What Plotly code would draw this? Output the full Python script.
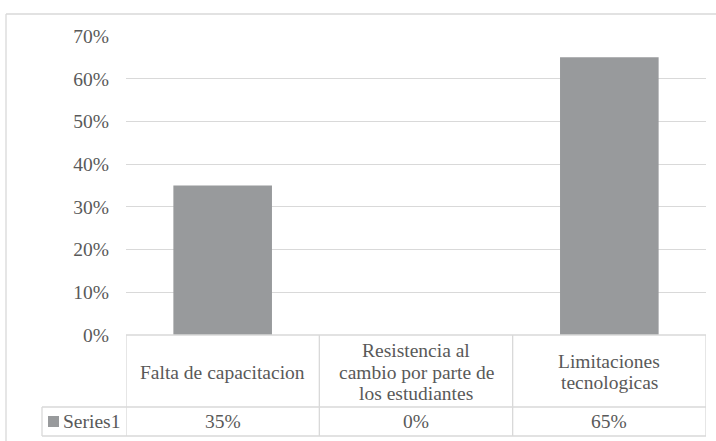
import plotly.graph_objects as go

categories = ["Falta de capacitacion",
              "Resistencia al cambio por parte de los estudiantes",
              "Limitaciones tecnologicas"]
# line breaks as they appear in the data table cells
table_labels = [["Falta de capacitacion"],
                ["Resistencia al", "cambio por parte de", "los estudiantes"],
                ["Limitaciones", "tecnologicas"]]
values = [0.35, 0.0, 0.65]
series_name = "Series1"
y_ticks = [0, 0.1, 0.2, 0.3, 0.4, 0.5, 0.6, 0.7]

W, H = 716, 441
L, R, T, B = 126, 10, 36, 106
pw, ph = W - L - R, H - T - B

FONT = "Times New Roman, Liberation Serif, DejaVu Serif, serif"
TXT = "#595959"
LINE = "#d9d9d9"
BAR = "#989a9c"

def px_x(p):  # pixel -> paper x
    return (p - L) / pw

def px_y(p):  # pixel -> paper y
    return (H - B - p) / ph

fig = go.Figure()
fig.add_trace(go.Bar(x=list(range(len(categories))), y=values, width=0.51,
                     marker=dict(color=BAR, line=dict(width=0)),
                     name=series_name, showlegend=False, hoverinfo="skip"))

shapes = []
# data table
row1, row2, row3 = px_y(335), px_y(407), px_y(436)
shapes.append(dict(type="line", xref="x", yref="paper", x0=-0.5, x1=2.5,
                   y0=row1, y1=row1, line=dict(color=LINE, width=1.3)))
for yy in (row2, row3):
    shapes.append(dict(type="line", xref="paper", yref="paper", x0=px_x(42), x1=1,
                       y0=yy, y1=yy, line=dict(color=LINE, width=1.3)))
for i in range(len(categories) + 1):
    shapes.append(dict(type="line", xref="x", yref="paper", x0=i - 0.5, x1=i - 0.5,
                       y0=row1, y1=row3, line=dict(color=LINE, width=1.3)))
shapes.append(dict(type="line", xref="paper", yref="paper", x0=px_x(42), x1=px_x(42),
                   y0=row2, y1=row3, line=dict(color=LINE, width=1.3)))
# legend key
shapes.append(dict(type="rect", xref="paper", yref="paper", x0=px_x(48), x1=px_x(59),
                   y0=px_y(427), y1=px_y(416), fillcolor=BAR, line=dict(width=0)))
# outer chart border
shapes.append(dict(type="line", xref="paper", yref="paper", x0=px_x(6), x1=px_x(716),
                   y0=px_y(14), y1=px_y(14), line=dict(color=LINE, width=1.3)))
shapes.append(dict(type="line", xref="paper", yref="paper", x0=px_x(6), x1=px_x(6),
                   y0=px_y(14), y1=px_y(441), line=dict(color=LINE, width=1.3)))

annotations = []
font = dict(family=FONT, size=19.5, color=TXT)
line_h = 21.5
for i, lines in enumerate(table_labels):
    n = len(lines)
    for k, s in enumerate(lines):
        yc = 372 + (k - (n - 1) / 2) * line_h
        annotations.append(dict(x=i, xref="x", y=px_y(yc), yref="paper", text=s,
                                showarrow=False, font=font, xanchor="center", yanchor="middle"))
for i, v in enumerate(values):
    annotations.append(dict(x=i, xref="x", y=px_y(421.5), yref="paper", text=f"{v:.0%}",
                            showarrow=False, font=font, xanchor="center", yanchor="middle"))
annotations.append(dict(x=px_x(61), xref="paper", y=px_y(421.5), yref="paper", text=series_name,
                        showarrow=False, font=font, xanchor="left", yanchor="middle"))

fig.update_layout(
    width=W, height=H,
    margin=dict(l=L, r=R, t=T, b=B),
    paper_bgcolor="white", plot_bgcolor="white",
    font=dict(family=FONT, color=TXT),
    xaxis=dict(range=[-0.5, 2.5], showticklabels=False, showgrid=False, zeroline=False,
               fixedrange=True),
    yaxis=dict(range=[0, 0.7], tickvals=y_ticks, tickformat=".0%",
               tickfont=dict(family=FONT, size=19.5, color=TXT),
               ticks="", ticklabelstandoff=16,
               showgrid=True, gridcolor=LINE, gridwidth=1.3, zeroline=False,
               fixedrange=True),
    shapes=shapes, annotations=annotations, showlegend=False,
)

# page body has an 8px default margin; drop it so the chart sits at the window corner
fig.write_html("out.html", config={"displayModeBar": False},
               post_script="document.body.style.margin='0';")
